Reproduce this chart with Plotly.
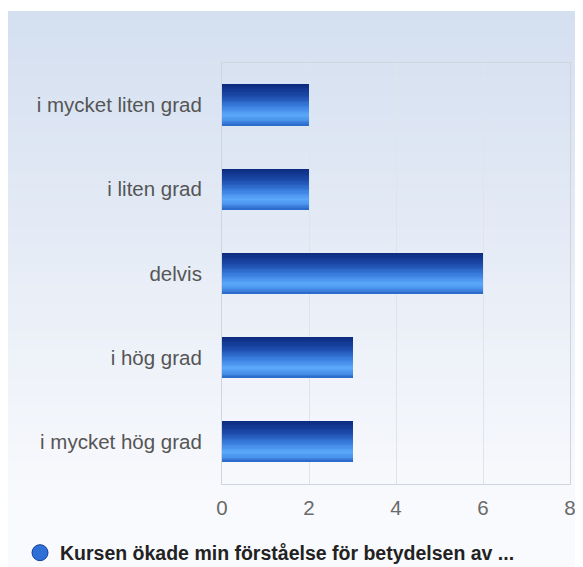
import plotly.graph_objects as go

categories = ["i mycket liten grad", "i liten grad", "delvis", "i hög grad", "i mycket hög grad"]
values = [2, 2, 6, 3, 3]
series_name = "Kursen ökade min förståelse för betydelsen av ..."
x_ticks = [0, 2, 4, 6, 8]

FONT = "Liberation Sans, Arial, sans-serif"

def lerp(c1, c2, t):
    a = [int(c1[i:i + 2], 16) for i in (1, 3, 5)]
    b = [int(c2[i:i + 2], 16) for i in (1, 3, 5)]
    return "rgb(%d,%d,%d)" % tuple(round(a[k] + (b[k] - a[k]) * t) for k in range(3))

def grad(stops, t):
    for (t0, c0), (t1, c1) in zip(stops, stops[1:]):
        if t0 <= t <= t1:
            return lerp(c0, c1, (t - t0) / (t1 - t0) if t1 > t0 else 0)
    return lerp(stops[-1][1], stops[-1][1], 0)

bar_stops = [(0.0, "#0b2a7e"), (0.3, "#1d4cac"), (0.55, "#3a80e0"),
             (0.76, "#5ca8fb"), (0.9, "#4790ea"), (1.0, "#2864c6")]

fig = go.Figure()
W = 0.48
N = 32
for i in range(N):
    t = (i + 0.5) / N
    fig.add_trace(go.Bar(
        y=categories, x=values, orientation="h",
        width=W / N * 1.3 if i < N - 1 else W / N,
        offset=-W / 2 + i * W / N,
        marker=dict(color=grad(bar_stops, t), line=dict(width=0)),
        showlegend=False, hoverinfo="skip",
    ))

fig.add_trace(go.Scatter(
    x=[None], y=[None], mode="markers", name=series_name,
    marker=dict(symbol="circle", size=16, color="#2f6fd8",
                line=dict(color="#153f98", width=1)),
    showlegend=True,
))

# page body has an 8px margin; work in screen coords and shift
OFF = 8
FW, FH = 583 - OFF, 567 - OFF
L, R, T, B = 222 - OFF, 570 - OFF, 63 - OFF, 484 - OFF
def px(x): return (x - OFF - L) / (R - L)
def py(y): return (B - (y - OFF)) / (B - T)
shapes = []
NS = 60
top, bot = 11, 575
for i in range(NS):
    y0 = top + (bot - top) * i / NS
    y1 = top + (bot - top) * (i + 1) / NS + 0.5
    shapes.append(dict(type="rect", xref="paper", yref="paper", layer="below",
                       x0=px(8), x1=px(600), y0=py(y1), y1=py(y0),
                       line=dict(width=0),
                       fillcolor=lerp("#d4dff0", "#f9fafd", min(1, (i / NS) * 1.15))))

fig.update_layout(
    width=FW, height=FH,
    margin=dict(l=L, r=FW - R, t=T, b=FH - B, autoexpand=False),
    paper_bgcolor="white", plot_bgcolor="rgba(0,0,0,0)",
    barmode="overlay", bargap=0,
    shapes=shapes,
    font=dict(family=FONT),
    legend=dict(orientation="h", x=px(20), xanchor="left", y=py(553), yanchor="middle",
                font=dict(family=FONT, size=19.5, color="#222222", weight="bold"),
                bgcolor="rgba(255,255,255,0)", borderwidth=0, itemwidth=30),
    xaxis=dict(range=[0, 8], tickvals=x_ticks, ticktext=[str(v) for v in x_ticks],
               showgrid=True, gridcolor="#dfe3ea", gridwidth=1,
               showline=True, linecolor="#cfd5de", mirror=True,
               zeroline=False, ticks="", ticklabelstandoff=5,
               tickfont=dict(family=FONT, size=20.5, color="#6a6a6a")),
    yaxis=dict(categoryorder="array", categoryarray=categories, autorange="reversed",
               showgrid=False, showline=True, linecolor="#cfd5de", mirror=True,
               zeroline=False, ticks="", ticklabelstandoff=15,
               tickfont=dict(family=FONT, size=20.5, color="#555555")),
)

fig.write_html("out.html")
